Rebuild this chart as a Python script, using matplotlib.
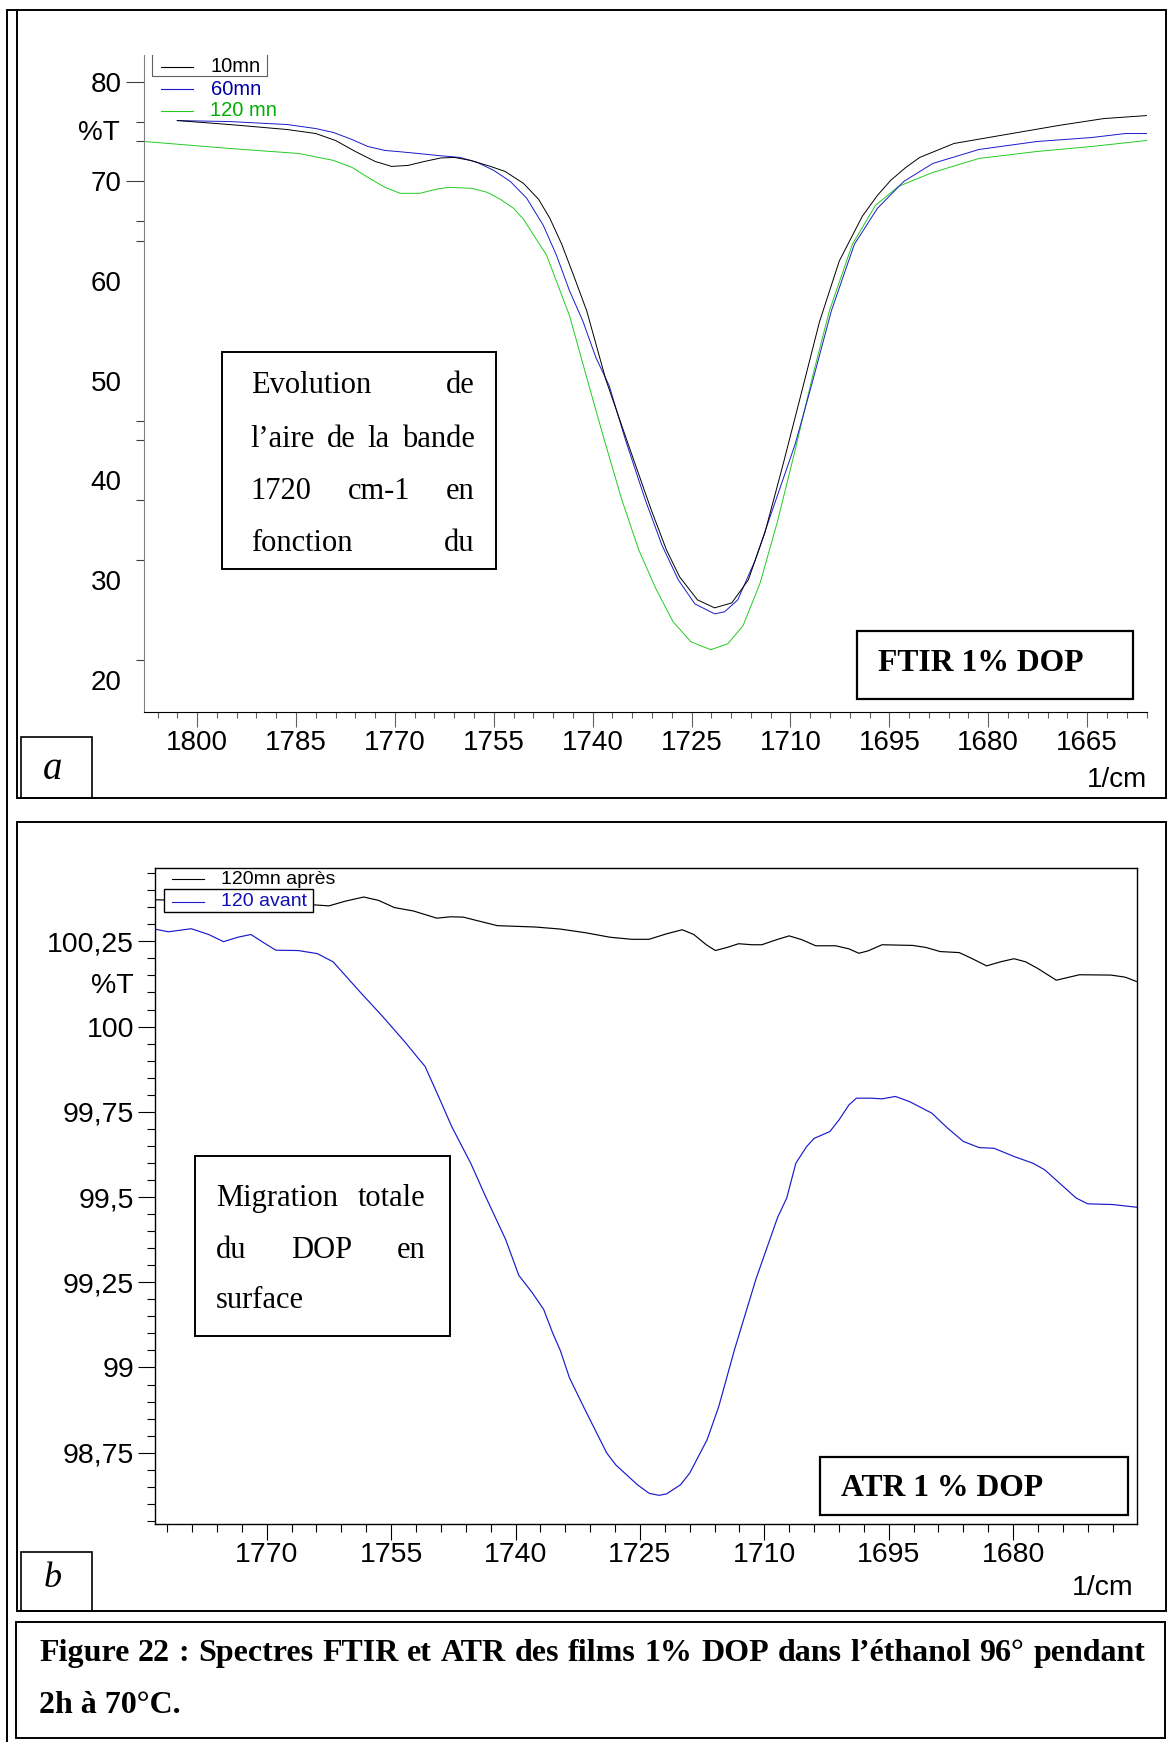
import matplotlib
matplotlib.use("Agg")
import matplotlib.pyplot as plt
from matplotlib.patches import Rectangle
from matplotlib.ticker import FixedLocator, MultipleLocator

plt.rcParams['font.family'] = ['Liberation Sans', 'DejaVu Sans']

W, H = 1168, 1742
PT = 72 / 100  # points per pixel at dpi 100

# --- (a) FTIR, 1% DOP film, %T vs 1/cm ---
ftir_10_wn = [1803.0, 1795.0, 1786.3, 1782.0, 1779.0, 1776.0, 1773.0, 1770.5, 1768.0, 1765.5,
              1763.0, 1761.0, 1758.5, 1755.5, 1753.3, 1750.5, 1748.2, 1746.5, 1744.7, 1742.8,
              1740.9, 1738.0, 1734.6, 1731.1, 1728.8, 1726.8, 1724.1, 1721.5, 1718.9, 1716.4,
              1713.9, 1711.2, 1708.6, 1705.6, 1702.6, 1699.1, 1696.8, 1694.8, 1692.5, 1690.4,
              1685.2, 1678.2, 1669.4, 1662.5, 1656.0]
ftir_10_t = [76.1, 75.7, 75.2, 74.8, 74.1, 73.0, 72.0, 71.5, 71.6, 72.0,
             72.35, 72.4, 72.1, 71.5, 71.0, 69.8, 68.2, 66.3, 63.7, 60.4,
             57.0, 50.1, 43.6, 37.0, 33.0, 30.3, 28.0, 27.2, 27.7, 30.0,
             34.7, 41.4, 48.1, 55.9, 62.0, 66.5, 68.6, 70.1, 71.4, 72.4,
             73.8, 74.6, 75.6, 76.3, 76.6]

ftir_60_wn = [1803.0, 1795.0, 1786.3, 1782.0, 1779.3, 1776.5, 1774.1, 1771.5, 1769.7, 1766.5,
              1763.6, 1760.1, 1757.5, 1755.0, 1752.5, 1750.0, 1747.5, 1745.5, 1743.5, 1741.5,
              1739.5, 1737.5, 1735.0, 1732.0, 1729.5, 1727.0, 1724.5, 1721.5, 1720.0, 1718.0,
              1715.4, 1712.8, 1709.3, 1706.7, 1703.8, 1700.3, 1696.8, 1692.8, 1688.4, 1681.4,
              1672.6, 1664.3, 1659.2, 1656.0]
ftir_60_t = [76.1, 76.0, 75.7, 75.3, 74.9, 74.2, 73.5, 73.1, 73.0, 72.8,
             72.6, 72.4, 71.9, 71.1, 70.0, 68.3, 65.6, 62.6, 59.0, 56.0,
             52.3, 49.5, 44.0, 38.0, 33.5, 30.0, 27.6, 26.6, 26.8, 28.0,
             31.9, 36.9, 43.6, 49.8, 57.0, 63.7, 67.3, 70.0, 71.8, 73.2,
             74.0, 74.4, 74.8, 74.8]

ftir_120_wn = [1808.0, 1795.1, 1784.6, 1779.3, 1776.5, 1774.1, 1771.5, 1769.2, 1766.2, 1763.8,
               1761.8, 1758.3, 1756.0, 1754.0, 1752.0, 1750.5, 1747.0, 1743.5, 1740.9, 1738.3,
               1735.6, 1733.0, 1730.4, 1727.8, 1725.1, 1722.1, 1719.5, 1717.2, 1714.6, 1712.0,
               1709.3, 1706.7, 1704.1, 1700.6, 1697.1, 1693.6, 1688.4, 1681.4, 1672.6, 1664.3,
               1656.0]
ftir_120_t = [74.0, 73.3, 72.8, 72.1, 71.4, 70.4, 69.4, 68.8, 68.8, 69.2,
              69.4, 69.3, 68.9, 68.2, 67.3, 66.2, 62.6, 56.5, 50.3, 44.2,
              38.1, 33.0, 29.1, 25.8, 23.8, 23.0, 23.6, 25.4, 29.7, 35.8,
              43.0, 50.3, 57.0, 63.7, 67.6, 69.5, 70.9, 72.3, 73.0, 73.5,
              74.1]

ftir_yticks = [80, 70, 60, 50, 40, 30, 20]
ftir_yminor = [76, 74, 66, 64, 46, 44, 38, 32, 30, 22]
ftir_xticks = [1800, 1785, 1770, 1755, 1740, 1725, 1710, 1695, 1680, 1665]
ftir_names = ["10mn", "60mn", "120 mn"]

# --- (b) ATR, 1% DOP film, before / after 120 min ---
atr_apres_wn = [1783.5, 1780.0, 1776.0, 1772.0, 1768.0, 1764.3, 1762.5, 1760.5, 1758.3, 1756.5,
                1754.6, 1752.3, 1749.5, 1747.8, 1746.3, 1744.5, 1742.2, 1737.6, 1734.6, 1731.5,
                1728.6, 1726.0, 1723.9, 1721.8, 1719.9, 1718.5, 1717.0, 1715.9, 1714.5, 1713.1,
                1711.5, 1710.3, 1708.5, 1707.0, 1705.5, 1703.8, 1701.4, 1699.8, 1698.6, 1697.5,
                1695.8, 1692.1, 1690.5, 1688.8, 1686.5, 1685.0, 1683.2, 1681.5, 1679.9, 1678.5,
                1677.0, 1674.8, 1672.0, 1668.2, 1666.5, 1665.1]
atr_apres_t = [100.372, 100.37, 100.365, 100.362, 100.36, 100.357, 100.354, 100.368, 100.38, 100.37,
               100.349, 100.339, 100.318, 100.322, 100.321, 100.31, 100.296, 100.292, 100.286, 100.275,
               100.262, 100.256, 100.256, 100.272, 100.284, 100.27, 100.24, 100.223, 100.232, 100.243,
               100.24, 100.24, 100.255, 100.266, 100.255, 100.237, 100.237, 100.228, 100.215, 100.222,
               100.24, 100.238, 100.232, 100.22, 100.217, 100.2, 100.178, 100.19, 100.199, 100.19,
               100.17, 100.136, 100.152, 100.151, 100.145, 100.132]

atr_avant_wn = [1783.5, 1781.85, 1779.1, 1777.0, 1775.2, 1773.5, 1771.9, 1770.3, 1768.9, 1766.2,
                1763.9, 1762.0, 1758.8, 1756.0, 1753.2, 1751.9, 1750.9, 1749.1, 1747.7, 1745.4,
                1743.6, 1741.2, 1739.6, 1738.0, 1736.6, 1735.5, 1734.6, 1733.5, 1731.8, 1729.0,
                1727.9, 1725.3, 1723.9, 1722.7, 1721.8, 1720.1, 1719.0, 1716.9, 1715.5, 1713.6,
                1711.0, 1708.4, 1707.3, 1706.2, 1704.9, 1704.0, 1702.1, 1701.0, 1699.8, 1698.9,
                1697.2, 1695.8, 1694.2, 1692.5, 1689.8, 1687.9, 1686.0, 1684.1, 1682.3, 1679.9,
                1677.6, 1676.2, 1672.4, 1671.0, 1668.0, 1665.1]
atr_avant_t = [100.286, 100.278, 100.287, 100.27, 100.249, 100.262, 100.27, 100.245, 100.224, 100.223,
               100.214, 100.19, 100.103, 100.029, 99.951, 99.912, 99.883, 99.785, 99.707, 99.599,
               99.501, 99.376, 99.27, 99.22, 99.17, 99.1, 99.05, 98.97, 98.885, 98.749,
               98.714, 98.656, 98.631, 98.625, 98.629, 98.656, 98.69, 98.788, 98.885, 99.052,
               99.26, 99.44, 99.497, 99.599, 99.648, 99.672, 99.692, 99.726, 99.77, 99.79,
               99.79, 99.788, 99.795, 99.78, 99.746, 99.702, 99.663, 99.645, 99.643, 99.619,
               99.599, 99.58, 99.497, 99.48, 99.478, 99.47]

atr_yticks = [100.25, 100, 99.75, 99.5, 99.25, 99, 98.75]
atr_ylabels = ["100,25", "100", "99,75", "99,5", "99,25", "99", "98,75"]
atr_xticks = [1770, 1755, 1740, 1725, 1710, 1695, 1680]
atr_names = ["120mn après", "120 avant"]

BLACK = "#000000"
BLUE = "#1a1acc"
GREEN = "#22cc22"


def px_axes(fig, left, top, right, bottom):
    return fig.add_axes([left / W, 1 - bottom / H, (right - left) / W, (bottom - top) / H])


fig = plt.figure(figsize=(W / 100, H / 100), dpi=100)

# ---------- panel a ----------
ax1 = px_axes(fig, 144, 55, 1146.7, 712.3)
ax1.plot(ftir_120_wn, ftir_120_t, color=GREEN, lw=0.7)
ax1.plot(ftir_60_wn, ftir_60_t, color=BLUE, lw=0.7)
ax1.plot(ftir_10_wn, ftir_10_t, color=BLACK, lw=0.7)
ax1.set_xlim(1808.05, 1655.97)
ax1.set_ylim(16.72, 82.68)
for s in ("top", "right"):
    ax1.spines[s].set_visible(False)
ax1.spines["left"].set_color("#808080")
ax1.spines["left"].set_linewidth(0.8)
ax1.spines["bottom"].set_linewidth(0.8)
ax1.set_yticks(ftir_yticks, [str(v) for v in ftir_yticks])
ax1.yaxis.set_minor_locator(FixedLocator(ftir_yminor))
ax1.set_xticks(ftir_xticks, [str(v) for v in ftir_xticks])
ax1.xaxis.set_minor_locator(MultipleLocator(3))
ax1.tick_params(axis="y", which="major", length=17.7 * PT, width=0.8, color="#404040",
                labelsize=20, pad=3.3)
ax1.tick_params(axis="y", which="minor", length=8 * PT, width=0.8, color="#404040")
ax1.tick_params(axis="x", which="major", length=15 * PT, width=0.8, color="#606060",
                labelsize=20, pad=2)
ax1.tick_params(axis="x", which="minor", length=6 * PT, width=0.8, color="#606060")
# only 80 and 70 carry a tick mark on this axis
for tk in ax1.yaxis.get_major_ticks()[2:]:
    tk.tick1line.set_visible(False)

# ---------- panel b ----------
ax2 = px_axes(fig, 155, 867.7, 1136.7, 1524.3)
ax2.plot(atr_apres_wn, atr_apres_t, color=BLACK, lw=0.85)
ax2.plot(atr_avant_wn, atr_avant_t, color=BLUE, lw=0.85)
ax2.set_xlim(1783.47, 1665.1)
ax2.set_ylim(98.540, 100.466)
for s in ax2.spines.values():
    s.set_linewidth(1.0)
ax2.set_yticks(atr_yticks, atr_ylabels)
ax2.yaxis.set_minor_locator(MultipleLocator(0.05))
ax2.set_xticks(atr_xticks, [str(v) for v in atr_xticks])
ax2.xaxis.set_minor_locator(MultipleLocator(3))
ax2.tick_params(axis="y", which="major", length=17 * PT, width=0.8, labelsize=20.5, pad=2.7)
ax2.tick_params(axis="y", which="minor", length=8.4 * PT, width=0.8)
ax2.tick_params(axis="x", which="major", length=16 * PT, width=0.8, labelsize=20.5, pad=1.5)
ax2.tick_params(axis="x", which="minor", length=8 * PT, width=0.8)

# ---------- frames, legends and text boxes in pixel coordinates ----------
ov = fig.add_axes([0, 0, 1, 1], zorder=10)
ov.set_xlim(0, W)
ov.set_ylim(H, 0)
ov.axis("off")
ov.patch.set_alpha(0)

lw_frame = 1.4
ov.plot([6.7, 6.7], [10, H], color="black", lw=lw_frame)
ov.plot([6.7, 17], [10, 10], color="black", lw=lw_frame)
ov.add_patch(Rectangle((17, 10), 1149, 788, fill=False, ec="black", lw=lw_frame))
ov.add_patch(Rectangle((17, 822), 1149, 788.7, fill=False, ec="black", lw=lw_frame))
ov.add_patch(Rectangle((16.4, 1622), 1148.6, 116, fill=False, ec="black", lw=lw_frame))

# panel letters
ov.add_patch(Rectangle((21, 736.7), 71, 61, fill=False, ec="black", lw=1.2))
ov.text(53, 769, "a", fontsize=28, family="Liberation Serif", style="italic",
        ha="center", va="center")
ov.add_patch(Rectangle((21, 1551.7), 71, 59, fill=False, ec="black", lw=1.2))
ov.text(53, 1578, "b", fontsize=26, family="Liberation Serif", style="italic",
        ha="center", va="center")

# axis titles
ov.text(98.5, 132.5, "%T", fontsize=20, ha="center", va="center")
ov.text(1146.7, 780, "1/cm", fontsize=20, ha="right", va="center")
ov.text(134, 985.7, "%T", fontsize=20.5, ha="right", va="center")
ov.text(1134, 1588, "1/cm", fontsize=20.5, ha="right", va="center")

# legend of panel a
ov.plot([152.3, 152.3, 266.7, 266.7], [55, 76, 76, 55], color="#606060", lw=0.8)
for name, col, tcol, y in zip(ftir_names, [BLACK, BLUE, GREEN], ["black", "#0000a8", "#00b000"],
                              [66.7, 89.3, 111]):
    ov.plot([160.7, 193.3], [y, y], color=col, lw=0.8)
    ov.text(210.5, y, name, fontsize=14.5, color=tcol, ha="left", va="center")

# legend of panel b
ov.add_patch(Rectangle((163.8, 889.3), 149.2, 22.4, fc="white", ec="black", lw=1.0))
for name, col, tcol, y in zip(atr_names, [BLACK, BLUE], ["black", "#1010b8"], [879, 901.7]):
    ov.plot([171.5, 203.6], [y, y], color=col, lw=0.8)
    ov.text(221, y, name, fontsize=14, color=tcol, ha="left", va="center")

renderer = fig.canvas.get_renderer()


def justify(words, x0, x1, y, **kw):
    items = [ov.text(0, y, w, ha="left", va="center", **kw) for w in words]
    widths = [t.get_window_extent(renderer).width for t in items]
    gap = (x1 - x0 - sum(widths)) / max(len(words) - 1, 1)
    x = x0
    for t, w in zip(items, widths):
        t.set_x(x)
        x += w + gap


serif = dict(family="Liberation Serif", fontsize=22)
bold = dict(family="Liberation Serif", fontsize=22.8, weight="bold")

ov.add_patch(Rectangle((222, 351.7), 273.6, 217.3, fill=False, ec="black", lw=1.4))
justify(["Evolution", "de"], 250.7, 474.6, 385.6, **serif)
justify(["l\u2019aire", "de", "la", "bande"], 250.7, 474.6, 439, **serif)
justify(["1720", "cm-1", "en"], 250.7, 474.6, 491, **serif)
justify(["fonction", "du"], 250.7, 474.6, 543.4, **serif)

ov.add_patch(Rectangle((856.6, 630.7), 276.4, 68.6, fill=False, ec="black", lw=1.6))
ov.text(878, 663, "FTIR 1% DOP", ha="left", va="center", **bold)

ov.add_patch(Rectangle((194.5, 1155.8), 255.5, 180, fill=False, ec="black", lw=1.4))
justify(["Migration", "totale"], 216, 425.6, 1198, **serif)
justify(["du", "DOP", "en"], 216, 425.6, 1250, **serif)
ov.text(216, 1300, "surface", ha="left", va="center", **serif)

ov.add_patch(Rectangle((819.8, 1457.3), 308.2, 57.7, fill=False, ec="black", lw=1.6))
ov.text(841, 1488, "ATR 1 % DOP", ha="left", va="center", **bold)

# figure caption
cap = dict(family="Liberation Serif", fontsize=23, weight="bold")
justify(["Figure", "22", ":", "Spectres", "FTIR", "et", "ATR", "des", "films", "1%", "DOP",
         "dans", "l\u2019\u00e9thanol", "96\u00b0", "pendant"], 39, 1145, 1653, **cap)
ov.text(39, 1705, "2h \u00e0 70\u00b0C.", ha="left", va="center", **cap)

fig.savefig("out.png", dpi=100)
